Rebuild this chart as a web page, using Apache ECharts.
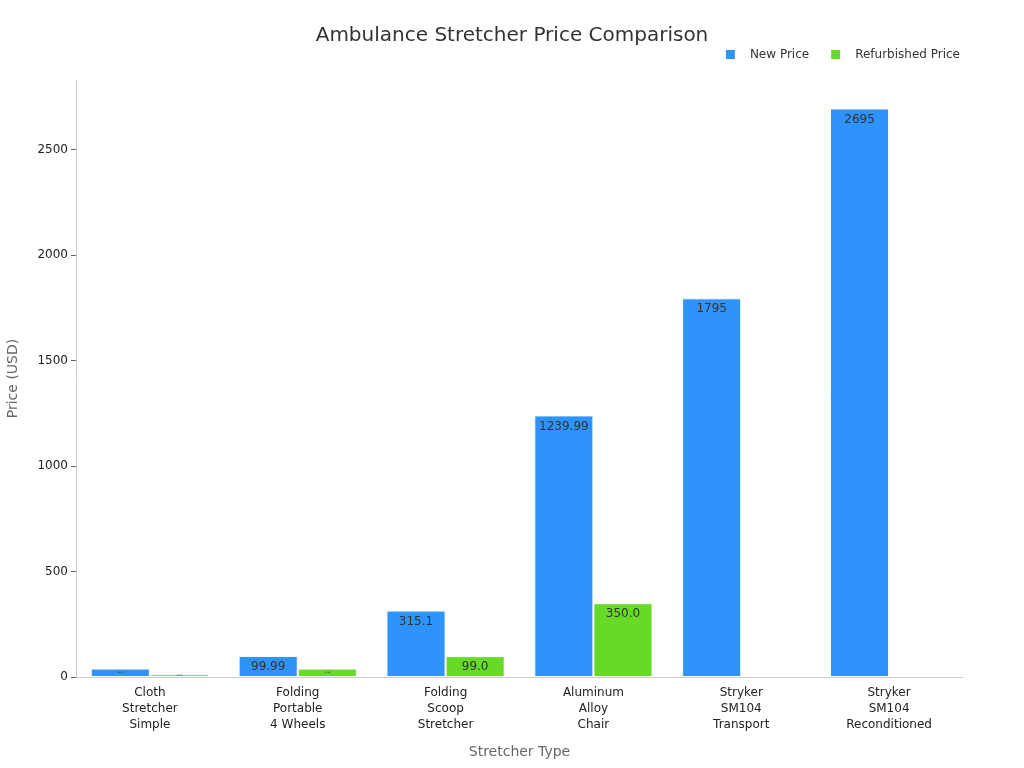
<!DOCTYPE html>
<html>
<head>
<meta charset="utf-8">
<script src="https://cdn.jsdelivr.net/npm/echarts@6/dist/echarts.min.js"></script>
<style>
  html, body { margin: 0; padding: 0; background: #fff; }
  #main { width: 1024px; height: 768px; }
</style>
</head>
<body>
<div id="main"></div>
<script>
const categories = [
  "Cloth\nStretcher\nSimple",
  "Folding\nPortable\n4 Wheels",
  "Folding\nScoop\nStretcher",
  "Aluminum\nAlloy\nChair",
  "Stryker\nSM104\nTransport",
  "Stryker\nSM104\nReconditioned"
];
const newPrice = [39.99, 99.99, 315.1, 1239.99, 1795, 2695];
const refurbishedPrice = [12.99, 39.99, 99.0, 350.0, null, null];

const chart = echarts.init(document.getElementById("main"));

// tiny bars get a squeezed label, like the original
const toItems = (arr, fixed) => arr.map(v => {
  if (v == null) return null;
  const txt = fixed && Number.isInteger(v) ? v.toFixed(1) : String(v);
  return {
    value: v,
    label: v < 60 ? { fontSize: 2, position: "inside", formatter: txt } : { formatter: txt }
  };
});

chart.setOption({
  title: {
    text: "Ambulance Stretcher Price Comparison",
    left: "center",
    top: 21,
    textStyle: { fontFamily: "DejaVu Sans", fontSize: 20, fontWeight: "normal", color: "#333" }
  },
  legend: {
    right: 59,
    top: 43,
    itemWidth: 11,
    itemHeight: 11,
    itemGap: 20,
    icon: "rect",
    textStyle: { fontFamily: "DejaVu Sans", fontSize: 12, color: "#333", padding: [0, 0, 0, 9] }
  },
  grid: { left: 76, right: 61, top: 80, bottom: 91, outerBoundsMode: "none" },
  xAxis: {
    type: "category",
    data: categories,
    name: "Stretcher Type",
    nameLocation: "middle",
    nameGap: 68,
    nameTextStyle: { fontFamily: "DejaVu Sans", fontSize: 14, color: "#666" },
    axisLine: { lineStyle: { color: "#ccc" } },
    axisTick: { alignWithLabel: true, lineStyle: { color: "#666" } },
    axisLabel: { fontFamily: "DejaVu Sans", fontSize: 12, color: "#222", lineHeight: 16, interval: 0 }
  },
  yAxis: {
    type: "value",
    max: v => v.max * 1.05,
    interval: 500,
    name: "Price (USD)",
    nameLocation: "middle",
    nameGap: 56,
    nameTextStyle: { fontFamily: "DejaVu Sans", fontSize: 14, color: "#666" },
    axisLine: { show: true, lineStyle: { color: "#ccc" } },
    axisTick: { show: true, lineStyle: { color: "#666" } },
    splitLine: { show: false },
    axisLabel: {
      fontFamily: "DejaVu Sans", fontSize: 12, color: "#222", showMaxLabel: false,
      formatter: v => String(v)
    }
  },
  series: [
    {
      name: "New Price",
      type: "bar",
      data: toItems(newPrice, false),
      barGap: "0%",
      barCategoryGap: "20%",
      itemStyle: { color: "#2E93FA", borderColor: "#fff", borderWidth: 1 },
      label: { show: true, position: "insideTop", fontFamily: "DejaVu Sans", fontSize: 12, color: "#333" }
    },
    {
      name: "Refurbished Price",
      type: "bar",
      data: toItems(refurbishedPrice, true),
      itemStyle: { color: "#66DA26", borderColor: "#fff", borderWidth: 1 },
      label: { show: true, position: "insideTop", fontFamily: "DejaVu Sans", fontSize: 12, color: "#333" }
    }
  ]
});
</script>
</body>
</html>
